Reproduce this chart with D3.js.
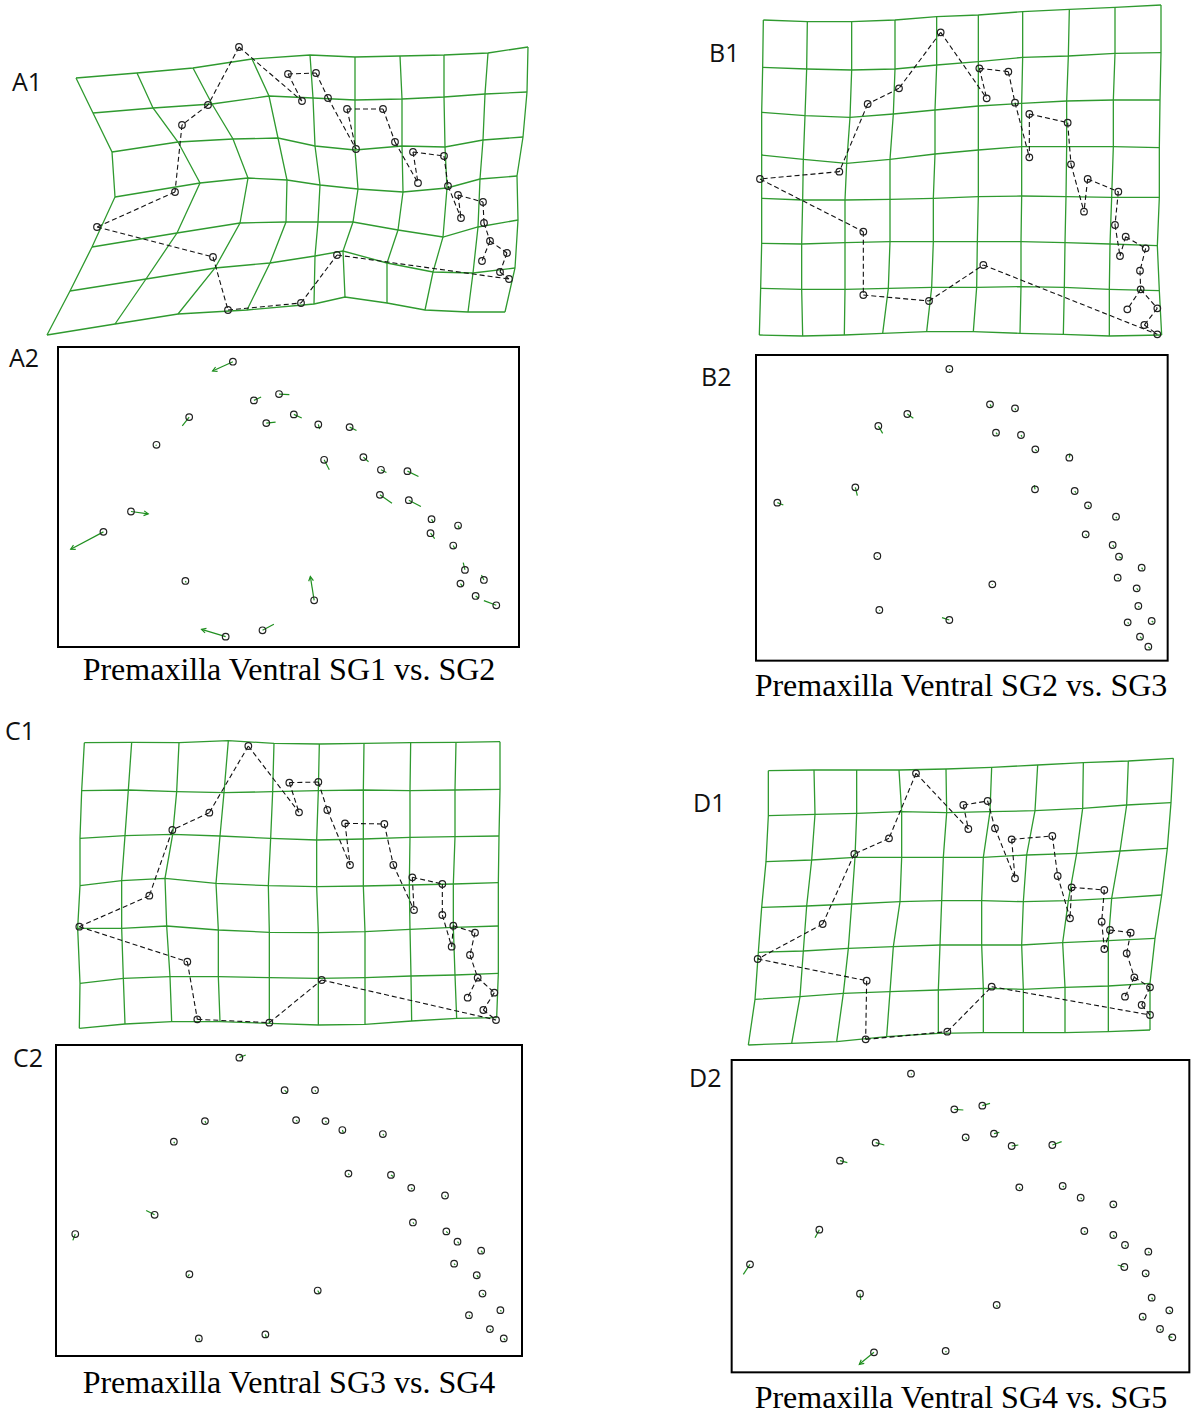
<!DOCTYPE html>
<html><head><meta charset="utf-8">
<script src="https://cdn.jsdelivr.net/npm/d3@7"></script>
<style>body{margin:0;background:#fff} svg{display:block}</style>
</head><body>
<svg id="fig" width="1193" height="1418"></svg>
<script>
// ---------- DATA ----------
// landmark links (index pairs), shared by all deformation grids
const links = [[0,1],[1,2],[2,3],[3,4],[4,5],[5,6],[6,7],[7,8],[8,29],[0,11],[9,11],[9,10],[10,12],[12,15],[13,15],[13,14],[14,16],[16,19],[17,19],[17,18],[18,20],[20,23],[21,23],[21,22],[22,24],[24,25],[25,26],[25,27],[26,28],[28,29]];

// A1 deformation grid nodes (rows x cols) and landmarks
const gridA1 = [
 [[76,78],[137,73],[193,68],[252,59],[310,55],[355,57],[400,56],[444,55],[488,53],[528,47]],
 [[93,113],[153,108],[212,104],[269,96],[313,98],[355,100],[402,99],[444,97],[485,94],[527,92]],
 [[112,152],[178,142],[233,139],[278,138],[315,146],[355,150],[402,146],[445,147],[483,140],[523,137]],
 [[115,197],[200,183],[248,178],[287,180],[320,185],[358,189],[403,192],[447,188],[480,179],[517,176]],
 [[92,247],[177,233],[240,223],[286,222],[318,222],[353,222],[398,230],[443,237],[478,227],[518,220]],
 [[70,291],[146,279],[215,268],[270,263],[315,256],[343,251],[387,263],[433,272],[473,273],[515,268]],
 [[47,335],[115,324],[178,314],[247,310],[314,304],[345,297],[387,303],[425,310],[468,312],[505,312]]
];
const landmarksA1 = [[239,47],[208,105],[182,125],[175,192],[97,227],[213,257],[228,310],[301,303],[337,255],[288,74],[316,73],[302,101],[328,98],[347,109],[383,109],[356,149],[395,142],[413,152],[444,156],[418,183],[448,186],[458,195],[483,202],[461,218],[484,223],[490,241],[507,253],[482,261],[500,272],[509,279]];

const gridB1 = [
 [[190,60],[322,65],[455,65],[585,60],[710,50],[835,45],[968,35],[1108,28],[1245,22],[1383,15]],
 [[188,202],[320,207],[455,210],[585,207],[710,195],[835,185],[968,172],[1105,168],[1245,160],[1383,158]],
 [[185,337],[315,347],[450,352],[580,342],[705,330],[835,318],[965,310],[1100,303],[1240,300],[1380,300]],
 [[185,465],[310,478],[440,490],[570,478],[705,462],[835,450],[965,440],[1100,440],[1240,440],[1378,443]],
 [[185,595],[308,600],[435,600],[570,598],[700,595],[835,590],[965,588],[1098,590],[1235,592],[1378,592]],
 [[185,730],[305,732],[435,728],[570,725],[700,725],[832,725],[963,725],[1095,728],[1230,732],[1372,737]],
 [[182,865],[305,868],[435,868],[565,865],[695,862],[830,862],[963,860],[1093,862],[1228,868],[1378,872]],
 [[178,1005],[308,1008],[433,1005],[548,1000],[680,995],[820,995],[960,1000],[1090,1003],[1228,1008],[1385,1005]]
];
const landmarksB1 = [[722,97],[597,265],[503,312],[418,515],[180,537],[490,695],[490,885],[687,903],[850,795],[838,205],[925,215],[860,295],[945,308],[988,342],[1103,368],[988,472],[1113,493],[1163,537],[1255,575],[1152,635],[1245,675],[1277,710],[1337,745],[1260,768],[1320,812],[1322,868],[1372,925],[1282,928],[1333,975],[1372,1003]];

const gridC1 = [
 [[253,68],[395,67],[537,68],[685,62],[822,70],[958,72],[1092,70],[1232,68],[1368,67],[1500,65]],
 [[245,212],[385,210],[530,215],[672,218],[818,215],[955,212],[1090,210],[1230,212],[1365,210],[1500,208]],
 [[240,355],[375,347],[518,343],[660,348],[812,355],[950,360],[1090,357],[1230,352],[1365,350],[1497,348]],
 [[240,497],[365,482],[495,475],[648,490],[805,497],[950,500],[1090,498],[1228,495],[1360,492],[1495,488]],
 [[233,625],[365,625],[500,618],[655,630],[808,637],[955,638],[1095,635],[1230,628],[1360,622],[1495,618]],
 [[240,790],[370,775],[510,770],[655,770],[808,773],[955,775],[1095,773],[1233,768],[1365,765],[1495,760]],
 [[238,925],[375,912],[515,905],[660,905],[808,910],[955,915],[1095,913],[1235,903],[1370,895],[1490,893]]
];
const landmarksC1 = [[745,78],[628,278],[517,330],[448,527],[238,620],[562,725],[592,898],[808,908],[965,780],[868,188],[955,186],[897,277],[982,270],[1035,310],[1153,312],[1050,435],[1180,435],[1237,472],[1327,492],[1242,570],[1327,585],[1360,617],[1425,638],[1355,680],[1410,705],[1433,773],[1483,818],[1403,833],[1450,870],[1488,900]];

const gridD1 = [
 [[235,62],[372,60],[500,60],[627,60],[768,57],[905,52],[1043,45],[1180,38],[1315,33],[1450,25]],
 [[235,197],[375,193],[500,190],[635,185],[770,188],[900,185],[1035,182],[1178,175],[1310,165],[1443,158]],
 [[228,335],[365,330],[495,322],[635,322],[760,322],[880,322],[1010,315],[1160,310],[1290,303],[1432,295]],
 [[215,472],[350,468],[485,462],[630,455],[755,452],[875,452],[1000,455],[1135,452],[1265,445],[1415,435]],
 [[205,607],[340,603],[475,595],[610,590],[750,585],[875,585],[995,585],[1118,578],[1255,572],[1395,565]],
 [[195,748],[330,740],[460,730],[600,725],[745,720],[880,715],[1000,718],[1125,712],[1255,708],[1380,700]],
 [[175,885],[305,880],[440,875],[590,860],[745,850],[880,848],[1000,848],[1125,848],[1255,845],[1380,840]]
];
const landmarksD1 = [[678,70],[597,265],[493,312],[398,522],[203,627],[530,692],[527,868],[772,845],[905,710],[820,165],[893,153],[835,237],[915,235],[965,268],[1087,258],[975,385],[1103,378],[1145,412],[1243,420],[1140,505],[1235,515],[1260,540],[1322,548],[1243,597],[1310,610],[1333,682],[1380,712],[1305,740],[1355,765],[1380,795]];

// vector plots: consensus landmark -> target
const consensusA2 = [[676,66],[549,232],[454,315],[380,515],[300,576],[538,723],[655,890],[762,871],[912,781],[737,182],[810,163],[773,250],[853,224],[924,254],[1015,262],[941,360],[1055,352],[1106,390],[1183,394],[1103,465],[1187,481],[1253,538],[1330,557],[1250,580],[1316,617],[1350,690],[1405,720],[1337,731],[1381,768],[1441,796]];
const targetA2 = [[617,94],[529,258],[452,318],[430,522],[205,628],[540,728],[585,868],[795,853],[901,710],[758,172],[840,165],[800,247],[876,235],[928,268],[1035,272],[956,390],[1070,366],[1122,398],[1215,410],[1138,490],[1222,500],[1258,548],[1334,566],[1262,596],[1320,625],[1345,668],[1398,705],[1342,738],[1390,775],[1405,782]];

const consensusB2 = [[748,72],[622,207],[535,243],[466,427],[232,473],[532,633],[538,795],[748,825],[877,718],[870,178],[945,190],[888,263],[963,270],[1006,313],[1108,338],[1005,433],[1124,438],[1164,481],[1248,515],[1157,568],[1238,600],[1257,635],[1325,668],[1253,698],[1310,730],[1315,783],[1355,828],[1283,832],[1320,875],[1345,905]];
const targetB2 = [[750,75],[640,220],[548,265],[472,452],[250,480],[532,635],[540,797],[726,818],[877,720],[874,185],[947,195],[892,268],[966,275],[1010,318],[1110,325],[1003,420],[1128,443],[1167,486],[1250,520],[1160,572],[1242,605],[1265,640],[1328,673],[1256,702],[1314,735],[1318,787],[1360,832],[1286,836],[1325,880],[1350,910]];

const consensusC2 = [[708,52],[606,243],[514,305],[457,525],[222,583],[560,704],[588,897],[785,885],[940,753],[842,150],[932,150],[876,240],[963,243],[1013,270],[1133,282],[1031,401],[1157,405],[1217,444],[1317,467],[1222,548],[1321,575],[1354,606],[1424,633],[1344,672],[1411,707],[1428,762],[1481,812],[1388,827],[1450,869],[1491,897]];
const targetC2 = [[727,44],[609,249],[516,310],[432,512],[215,602],[556,710],[590,903],[788,895],[946,763],[850,158],[934,154],[880,244],[966,247],[1016,278],[1136,286],[1033,405],[1164,410],[1220,448],[1319,471],[1225,552],[1325,580],[1358,611],[1428,639],[1347,676],[1416,713],[1432,766],[1484,816],[1391,831],[1453,873],[1495,902]];

const consensusD2 = [[663,56],[557,263],[450,317],[388,524],[180,628],[510,716],[552,892],[767,888],[920,750],[793,163],[877,152],[827,247],[912,236],[965,273],[1087,270],[988,397],[1118,393],[1172,428],[1270,448],[1183,528],[1270,540],[1305,570],[1375,590],[1303,636],[1367,655],[1385,728],[1438,766],[1358,785],[1410,822],[1447,847]];
const targetD2 = [[665,58],[583,270],[472,323],[375,548],[160,658],[512,735],[508,928],[769,892],[922,755],[820,165],[900,145],[830,252],[928,232],[985,270],[1115,260],[990,401],[1122,396],[1175,432],[1273,452],[1186,532],[1273,545],[1308,574],[1378,594],[1283,630],[1370,660],[1388,733],[1442,771],[1361,790],[1413,826],[1435,845]];

const panelLabels = ["A1","A2","B1","B2","C1","C2","D1","D2"];
const titles = ["Premaxilla Ventral SG1 vs. SG2","Premaxilla Ventral SG2 vs. SG3","Premaxilla Ventral SG3 vs. SG4","Premaxilla Ventral SG4 vs. SG5"];

// ---------- LAYOUT ----------
const GREEN = "#2f9a2f", VEC = "#1f8f1f";
const svg = d3.select("#fig");

const gridPanels = [
  {grid: gridA1, lm: landmarksA1, dx:[45,528], rx:[45,528], dy:[47,335], ry:[47,335]},
  {grid: gridB1, lm: landmarksB1, dx:[0,1479], rx:[700,1193], dy:[0,1035], ry:[0,345]},
  {grid: gridC1, lm: landmarksC1, dx:[0,1560], rx:[0,520], dy:[0,960], ry:[720,1040]},
  {grid: gridD1, lm: landmarksD1, dx:[0,1500], rx:[690,1190], dy:[0,900], ry:[750,1050]}
];
const vecPanels = [
  {c: consensusA2, t: targetA2, frame:[168,22,1507,921], dx:[168,1507], rx:[58,519], dy:[22,921], ry:[347,647]},
  {c: consensusB2, t: targetB2, frame:[168,30,1403,947], dx:[0,1479], rx:[700,1193], dy:[0,1080], ry:[345,705]},
  {c: consensusC2, t: targetC2, frame:[165,14,1545,950], dx:[165,1545], rx:[56,522], dy:[14,950], ry:[1045,1356]},
  {c: consensusD2, t: targetD2, frame:[125,15,1498,952], dx:[0,1500], rx:[690,1190], dy:[0,1080], ry:[1055,1415]}
];
const labelPos = [[12,91],[9,367],[709,62],[701,386],[5,740],[13,1067],[693,812],[689,1087]];
const titlePos = [[289,680],[961,696],[289,1393],[961,1408]];

gridPanels.forEach(p => {
  const x = d3.scaleLinear().domain(p.dx).range(p.rx);
  const y = d3.scaleLinear().domain(p.dy).range(p.ry);
  const line = d3.line().x(d => x(d[0])).y(d => y(d[1]));
  const g = svg.append("g");
  const cols = p.grid[0].map((_, j) => p.grid.map(r => r[j]));
  g.selectAll("path.row").data(p.grid).join("path").attr("class","row")
    .attr("d", line).attr("fill","none").attr("stroke",GREEN).attr("stroke-width",1.3);
  g.selectAll("path.col").data(cols).join("path").attr("class","col")
    .attr("d", line).attr("fill","none").attr("stroke",GREEN).attr("stroke-width",1.3);
  g.selectAll("line.link").data(links).join("line").attr("class","link")
    .attr("x1", d => x(p.lm[d[0]][0])).attr("y1", d => y(p.lm[d[0]][1]))
    .attr("x2", d => x(p.lm[d[1]][0])).attr("y2", d => y(p.lm[d[1]][1]))
    .attr("stroke","#111").attr("stroke-width",1.1).attr("stroke-dasharray","5,3");
  g.selectAll("circle").data(p.lm).join("circle")
    .attr("cx", d => x(d[0])).attr("cy", d => y(d[1])).attr("r",3.3)
    .attr("fill","none").attr("stroke","#222").attr("stroke-width",1.2);
});

vecPanels.forEach(p => {
  const x = d3.scaleLinear().domain(p.dx).range(p.rx);
  const y = d3.scaleLinear().domain(p.dy).range(p.ry);
  const g = svg.append("g");
  const f = p.frame;
  g.append("rect").attr("x", x(f[0])).attr("y", y(f[1]))
    .attr("width", x(f[2]) - x(f[0])).attr("height", y(f[3]) - y(f[1]))
    .attr("fill","none").attr("stroke","#000").attr("stroke-width",2);
  const vecs = p.c.map((c, i) => ({x1:x(c[0]), y1:y(c[1]), x2:x(p.t[i][0]), y2:y(p.t[i][1])}));
  g.selectAll("line.vec").data(vecs).join("line").attr("class","vec")
    .attr("x1", d => d.x1).attr("y1", d => d.y1).attr("x2", d => d.x2).attr("y2", d => d.y2)
    .attr("stroke",VEC).attr("stroke-width",1.2);
  g.selectAll("path.head").data(vecs.filter(d => Math.hypot(d.x2-d.x1, d.y2-d.y1) > 16)).join("path").attr("class","head")
    .attr("d", d => {
      const a = Math.atan2(d.y2-d.y1, d.x2-d.x1), L = 5, s = 0.5;
      const p1 = [d.x2 - L*Math.cos(a - s), d.y2 - L*Math.sin(a - s)];
      const p2 = [d.x2 - L*Math.cos(a + s), d.y2 - L*Math.sin(a + s)];
      return `M${p1[0]},${p1[1]}L${d.x2},${d.y2}L${p2[0]},${p2[1]}`;
    })
    .attr("fill","none").attr("stroke",VEC).attr("stroke-width",1.2);
  g.selectAll("circle").data(p.c).join("circle")
    .attr("cx", d => x(d[0])).attr("cy", d => y(d[1])).attr("r",3.3)
    .attr("fill","none").attr("stroke","#222").attr("stroke-width",1.2);
});

svg.selectAll("text.lab").data(panelLabels).join("text").attr("class","lab")
  .attr("x", (d,i) => labelPos[i][0]).attr("y", (d,i) => labelPos[i][1])
  .attr("font-family","'Open Sans', 'Noto Sans', sans-serif").attr("font-size",25)
  .attr("fill","#111").text(d => d);

svg.selectAll("text.title").data(titles).join("text").attr("class","title")
  .attr("x", (d,i) => titlePos[i][0]).attr("y", (d,i) => titlePos[i][1])
  .attr("text-anchor","middle")
  .attr("font-family","'Liberation Serif', 'Times New Roman', serif").attr("font-size",32)
  .attr("fill","#000").text(d => d);
</script>
</body></html>
